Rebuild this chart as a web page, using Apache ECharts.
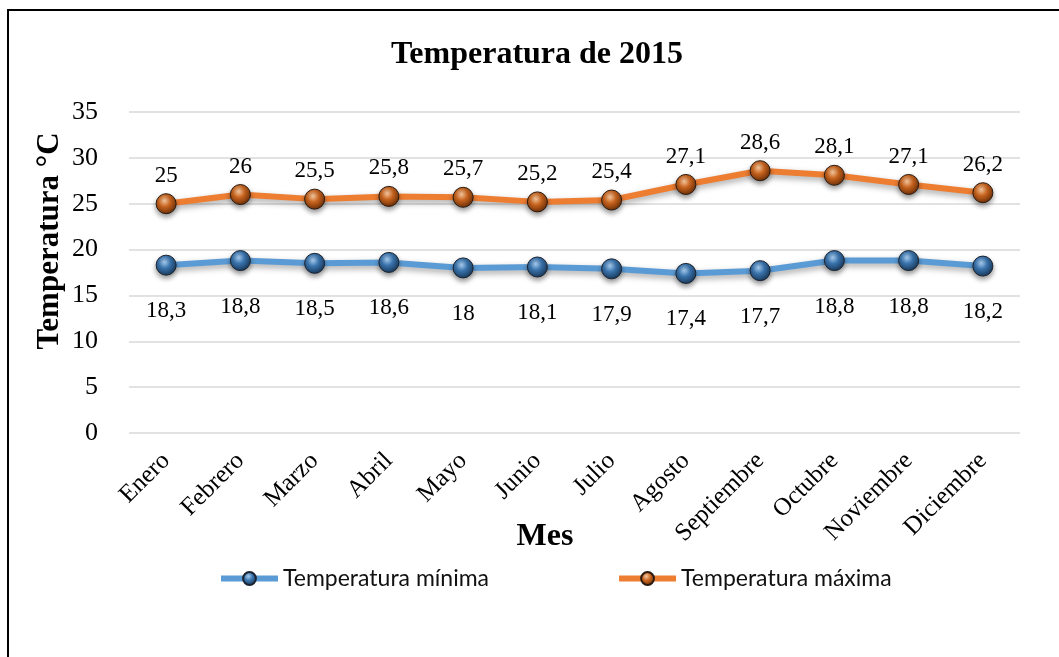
<!DOCTYPE html>
<html>
<head>
<meta charset="utf-8">
<script src="https://cdn.jsdelivr.net/npm/echarts@6/dist/echarts.min.js"></script>
<style>
  html, body { margin: 0; padding: 0; background: #fff; }
  #chart { width: 1059px; height: 657px; }
</style>
</head>
<body>
<div id="chart"></div>
<script>
// Monthly temperatures for 2015 (°C)
const months = ['Enero', 'Febrero', 'Marzo', 'Abril', 'Mayo', 'Junio', 'Julio',
  'Agosto', 'Septiembre', 'Octubre', 'Noviembre', 'Diciembre'];
const tempMin = [18.3, 18.8, 18.5, 18.6, 18, 18.1, 17.9, 17.4, 17.7, 18.8, 18.8, 18.2];
const tempMax = [25, 26, 25.5, 25.8, 25.7, 25.2, 25.4, 27.1, 28.6, 28.1, 27.1, 26.2];
const seriesNames = ['Temperatura mínima', 'Temperatura máxima'];

const serif = '"Liberation Serif", "Times New Roman", serif';
const sans = 'Lato, "Noto Sans", "Liberation Sans", sans-serif';

// Glossy sphere fill for the markers
function sphere(light, mid, dark) {
  return {
    type: 'radial', x: 0.42, y: 0.35, r: 0.65,
    colorStops: [
      { offset: 0, color: light },
      { offset: 0.45, color: mid },
      { offset: 1, color: dark }
    ]
  };
}

const fmt = p => String(p.value).replace('.', ',');

const chart = echarts.init(document.getElementById('chart'));
chart.setOption({
  animation: false,
  backgroundColor: '#fff',
  title: {
    text: 'Temperatura de 2015',
    left: 532, top: 34, textAlign: 'center',
    textStyle: { fontFamily: serif, fontSize: 32, fontWeight: 'bold', color: '#000' }
  },
  legend: {
    data: seriesNames,
    left: 218, top: 567, padding: 0,
    itemWidth: 57, itemHeight: 16, itemGap: 127,
    lineStyle: { width: 6, shadowBlur: 0, shadowOffsetY: 0 },
    textStyle: { fontFamily: sans, fontSize: 23, color: '#111' }
  },
  grid: { left: 129, right: 39, top: 112, bottom: 224, containLabel: false },
  xAxis: {
    type: 'category',
    data: months,
    boundaryGap: true,
    axisLine: { show: false },
    axisTick: { show: false },
    axisLabel: {
      rotate: 45, margin: 24, interval: 0,
      fontFamily: serif, fontSize: 25, color: '#000'
    }
  },
  yAxis: {
    type: 'value',
    min: 0, max: 35, interval: 5,
    axisLine: { show: false },
    axisTick: { show: false },
    splitLine: { lineStyle: { color: '#d9d9d9', width: 1.5 } },
    axisLabel: { margin: 31, fontFamily: serif, fontSize: 26, color: '#000' }
  },
  graphic: [
    {
      type: 'rect', silent: true, z: 100,
      shape: { x: 8, y: 10, width: 1200, height: 800 },
      style: { fill: 'none', stroke: '#000', lineWidth: 2 }
    },
    {
      type: 'text', silent: true,
      x: 50, y: 241, rotation: Math.PI / 2,
      style: {
        text: 'Temperatura °C', align: 'center', verticalAlign: 'middle',
        font: 'bold 31px ' + serif, fill: '#000'
      }
    },
    {
      type: 'text', silent: true,
      x: 545, y: 537,
      style: {
        text: 'Mes', align: 'center', verticalAlign: 'middle',
        font: 'bold 32px ' + serif, fill: '#000'
      }
    }
  ],
  series: [
    {
      name: seriesNames[0],
      type: 'line',
      data: tempMin,
      symbol: 'circle', symbolSize: 20,
      lineStyle: {
        color: '#5b9bd5', width: 6,
        shadowColor: 'rgba(0,0,0,0.35)', shadowBlur: 6, shadowOffsetY: 3
      },
      itemStyle: {
        color: sphere('#a9cdf0', '#3a74ad', '#1a3a5c'),
        borderColor: '#1a2330', borderWidth: 1,
        shadowColor: 'rgba(0,0,0,0.4)', shadowBlur: 5, shadowOffsetY: 3
      },
      label: {
        show: true, position: 'bottom', distance: 24,
        formatter: fmt,
        fontFamily: serif, fontSize: 23, color: '#000'
      }
    },
    {
      name: seriesNames[1],
      type: 'line',
      data: tempMax,
      symbol: 'circle', symbolSize: 20,
      lineStyle: {
        color: '#ed7d31', width: 6,
        shadowColor: 'rgba(0,0,0,0.35)', shadowBlur: 6, shadowOffsetY: 3
      },
      itemStyle: {
        color: sphere('#f7c9a0', '#c8641f', '#6e3008'),
        borderColor: '#2a1a10', borderWidth: 1,
        shadowColor: 'rgba(0,0,0,0.4)', shadowBlur: 5, shadowOffsetY: 3
      },
      label: {
        show: true, position: 'top', distance: 6,
        formatter: fmt,
        fontFamily: serif, fontSize: 23, color: '#000'
      }
    }
  ]
});
</script>
</body>
</html>
